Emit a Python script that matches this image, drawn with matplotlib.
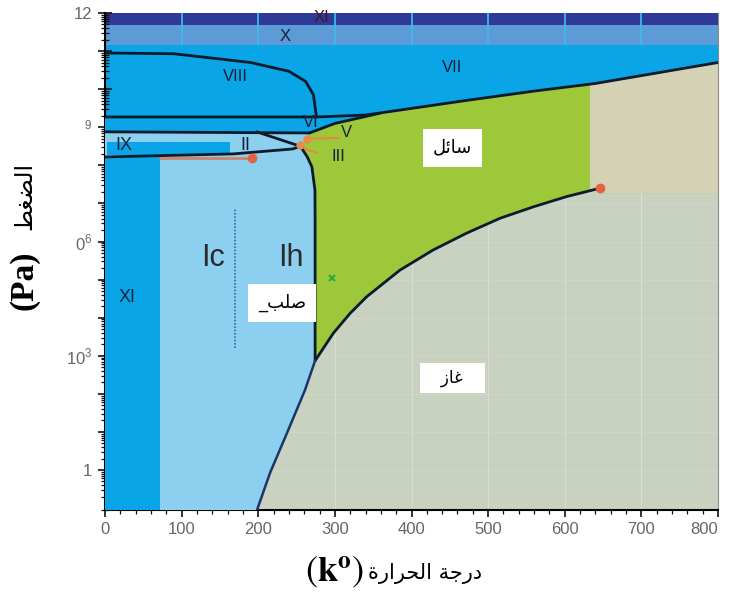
import numpy as np
import matplotlib
matplotlib.use("Agg")
import matplotlib.pyplot as plt
from matplotlib.patches import Polygon
from matplotlib.ticker import FixedLocator, MultipleLocator, NullFormatter

plt.rcParams['font.family'] = ['Liberation Sans', 'DejaVu Sans']
plt.rcParams['mathtext.fontset'] = 'custom'
plt.rcParams['mathtext.rm'] = 'Liberation Sans'

# Phase boundaries: T in K, pressure as log10(P / Pa)
viii_T = [0, 90, 190, 240, 262, 272, 276]
viii_lp = [10.95, 10.93, 10.70, 10.47, 10.20, 9.85, 9.27]

vii_T = [0, 276, 340, 470, 560, 640, 800]
vii_lp = [9.27, 9.27, 9.32, 9.70, 9.95, 10.15, 10.70]

vi_low_T = [0, 267]
vi_low_lp = [8.88, 8.85]

vi_liq_T = [267, 300, 359]
vi_liq_lp = [8.85, 9.10, 9.37]

ii_iii_T = [198, 255]
ii_iii_lp = [8.88, 8.50]

ih_top_T = [0, 167, 245, 255]
ih_top_lp = [8.22, 8.30, 8.43, 8.50]

melt_T = [255, 264, 270, 274, 274.2, 274.2]
melt_lp = [8.50, 8.22, 7.96, 7.35, 6.50, 2.87]

subl_T = [274.2, 261, 237.5, 215.3, 198.4]
subl_lp = [2.87, 2.10, 0.97, -0.08, -1.05]

vap_T = [274.2, 297.9, 319.7, 341.5, 385.0, 428.5, 472.0, 515.5, 559.0, 602.5, 646.0]
vap_lp = [2.87, 3.59, 4.11, 4.55, 5.25, 5.78, 6.22, 6.61, 6.91, 7.18, 7.40]

# marked points
crit_T, crit_lp = 646, 7.40
xi_end_T, xi_end_lp = 192, 8.19
tp_T = [255, 263]
tp_lp = [8.53, 8.70]
green_x_T, green_x_lp = 296, 5.03

# region edges
band_xi_lp = (11.69, 12.0)
band_x_lp = (11.16, 11.69)
ice_xi_Tmax = 72
super_Tmin, super_lp_min = 633, 7.27
ix_T = (3, 163)
ix_lp = (8.27, 8.62)
ic_ih_T = 170
ic_ih_lp = (3.2, 6.88)

grid_T = [100, 200, 300, 400, 500, 600, 700]
x_ticks = [0, 100, 200, 300, 400, 500, 600, 700, 800]
y_decades = list(range(0, 13))
y_labels = ['1', '', '', '$10^3$', '', '', '$0^6$', '', '', '$^9$', '', '', '12']

BRIGHT = '#0aa5e6'
LIGHT = '#8dcfee'
NAVY = '#2e3a96'
STEEL = '#5d9bd6'
GREEN = '#9cc83a'
BEIGE = '#d4d1b5'
GAS = '#c9d1c1'
LINE = '#0d1b2a'

ARABIC_FORMS = {
    # letter: (isolated, final, initial, medial)
    'ا': ('\uFE8D', '\uFE8E', None, None),
    'ب': ('\uFE8F', '\uFE90', '\uFE91', '\uFE92'),
    'ة': ('\uFE93', '\uFE94', None, None),
    'ج': ('\uFE9D', '\uFE9E', '\uFE9F', '\uFEA0'),
    'ح': ('\uFEA1', '\uFEA2', '\uFEA3', '\uFEA4'),
    'د': ('\uFEA9', '\uFEAA', None, None),
    'ر': ('\uFEAD', '\uFEAE', None, None),
    'ز': ('\uFEAF', '\uFEB0', None, None),
    'س': ('\uFEB1', '\uFEB2', '\uFEB3', '\uFEB4'),
    'ص': ('\uFEB9', '\uFEBA', '\uFEBB', '\uFEBC'),
    'ض': ('\uFEBD', '\uFEBE', '\uFEBF', '\uFEC0'),
    'ط': ('\uFEC1', '\uFEC2', '\uFEC3', '\uFEC4'),
    'غ': ('\uFECD', '\uFECE', '\uFECF', '\uFED0'),
    'ل': ('\uFEDD', '\uFEDE', '\uFEDF', '\uFEE0'),
    'ئ': ('\uFE89', '\uFE8A', '\uFE8B', '\uFE8C'),
}


def arabic(text):
    # matplotlib has no Arabic shaping, so pick the joined forms by hand
    # and reverse into visual order
    out = []
    for i, ch in enumerate(text):
        forms = ARABIC_FORMS.get(ch)
        if forms is None:
            out.append(ch)
            continue
        prev = text[i - 1] if i > 0 else ''
        nxt = text[i + 1] if i + 1 < len(text) else ''
        join_prev = prev in ARABIC_FORMS and ARABIC_FORMS[prev][2] is not None
        join_next = forms[2] is not None and nxt in ARABIC_FORMS
        if join_prev and join_next:
            out.append(forms[3])
        elif join_prev:
            out.append(forms[1])
        elif join_next:
            out.append(forms[2])
        else:
            out.append(forms[0])
    return ''.join(reversed(out))


def P(lp):
    return 10.0 ** np.asarray(lp, dtype=float)


W, H = 730, 597
fig = plt.figure(figsize=(W / 100, H / 100), dpi=100)
ax = fig.add_axes([105 / W, 1 - 510 / H, 613 / W, 497 / H])
ymin, ymax = 10 ** -1.05, 10 ** 12.0
ax.set_xlim(0, 800)
ax.set_yscale('log')
ax.set_ylim(ymin, ymax)
ax.set_facecolor(BRIGHT)

# liquid below the VII line, supercritical corner, then blue above again
ax.fill_between(vii_T, P(vii_lp), ymin, color=GREEN, lw=0, zorder=1)
ax.fill_between([super_Tmin, 800], 10 ** super_lp_min, ymax, color=BEIGE, lw=0, zorder=1.1)
ax.fill_between(vii_T, P(vii_lp), ymax, color=BRIGHT, lw=0, zorder=1.2)
ax.axhspan(10 ** band_x_lp[0], 10 ** band_x_lp[1], color=STEEL, lw=0, zorder=1.3)
ax.axhspan(10 ** band_xi_lp[0], 10 ** band_xi_lp[1], color=NAVY, lw=0, zorder=1.3)
ax.vlines(grid_T, 10 ** band_x_lp[0], ymax, color='#3db8ec', lw=1.3, zorder=1.4)

# vapour
gas_T = subl_T[::-1] + vap_T[1:] + [crit_T, 800, 800]
gas_lp = subl_lp[::-1] + vap_lp[1:] + [super_lp_min, super_lp_min, -1.05]
gas = Polygon(np.column_stack([gas_T, P(gas_lp)]), closed=True,
              facecolor=GAS, edgecolor='none', zorder=2)
ax.add_patch(gas)
gl = ax.vlines([300, 400, 500, 600, 700], ymin, ymax, color='#d8ded2', lw=0.8, zorder=2.1)
gl.set_clip_path(gas)
gh = ax.hlines(P(y_decades), 0, 800, color='#d1d8cb', lw=0.7, zorder=2.1)
gh.set_clip_path(gas)

# ice VI region between the box top and the VII line
vi_poly_T = vi_low_T + vi_liq_T[1:] + vii_T[2:0:-1] + [0]
vi_poly_lp = vi_low_lp + vi_liq_lp[1:] + vii_lp[2:0:-1] + [vii_lp[0]]
ax.add_patch(Polygon(np.column_stack([vi_poly_T, P(vi_poly_lp)]), closed=True,
                     facecolor=BRIGHT, edgecolor='none', zorder=3))

# ice II / IX box
box_T = ih_top_T + vi_low_T[::-1]
box_lp = ih_top_lp + vi_low_lp[::-1]
ax.add_patch(Polygon(np.column_stack([box_T, P(box_lp)]), closed=True,
                     facecolor=LIGHT, edgecolor='none', zorder=3))
ax.fill_between(ix_T, 10 ** ix_lp[0], 10 ** ix_lp[1], color=BRIGHT, lw=0, zorder=3.1)

# ice Ih / Ic and ice XI
ice_T = [ice_xi_Tmax] + subl_T[::-1] + melt_T[-2::-1] + ih_top_T[-2::-1] + [0]
ice_lp = [-1.05] + subl_lp[::-1] + melt_lp[-2::-1] + ih_top_lp[-2::-1] + [-1.05]
ax.add_patch(Polygon(np.column_stack([ice_T, P(ice_lp)]), closed=True,
                     facecolor=LIGHT, edgecolor='none', zorder=3))
ax.fill_between([0, ice_xi_Tmax], ymin, 10 ** ih_top_lp[0], color=BRIGHT, lw=0, zorder=3.1)

# boundaries
for T, lp in [(viii_T, viii_lp), (vii_T, vii_lp), (vi_low_T, vi_low_lp),
              (vi_liq_T, vi_liq_lp), (ii_iii_T, ii_iii_lp), (ih_top_T, ih_top_lp),
              (melt_T, melt_lp), (vap_T, vap_lp)]:
    ax.plot(T, P(lp), color=LINE, lw=2.0, solid_capstyle='round', zorder=5)
ax.plot(subl_T, P(subl_lp), color='#1b3566', lw=1.8, zorder=5)
ax.plot([ice_xi_Tmax, xi_end_T], P([xi_end_lp, xi_end_lp]), color='#e0704a', lw=2, alpha=0.8, zorder=4.9)
ax.plot([255, 276], P([8.48, 8.33]), color='#e58a45', lw=1.5, zorder=4.9)
ax.plot([263, 305], P([8.70, 8.72]), color='#e58a45', lw=1.5, zorder=4.9)
ax.plot([ic_ih_T, ic_ih_T], P(ic_ih_lp), color='#2f6d9c', lw=1.2, ls=(0, (1, 1)), zorder=5)

ax.plot([crit_T, xi_end_T], P([crit_lp, xi_end_lp]), ls='none', marker='o', ms=6,
        color='#e4633f', zorder=6)
ax.plot(tp_T, P(tp_lp), ls='none', marker='o', ms=5, color='#ea8a4a', zorder=6)
ax.plot([green_x_T], P([green_x_lp]), ls='none', marker='x', ms=4, mew=1.5,
        color='#2fae3a', zorder=6)

# phase labels
dark = '#17203c'
for txt, T, lp, fs in [('VIII', 170, 10.32, 12), ('VII', 453, 10.56, 12), ('X', 235, 11.37, 12),
                       ('VI', 268, 9.12, 12), ('V', 315, 8.87, 12), ('III', 304, 8.22, 12),
                       ('II', 183, 8.51, 13), ('IX', 25, 8.51, 13), ('XI', 29, 4.52, 13)]:
    ax.text(T, 10 ** lp, txt, color=dark, fontsize=fs, ha='center', va='center', zorder=7)
ax.text(283, 10 ** 11.87, 'XI', color='#401828', fontsize=12, ha='center', va='center', zorder=7)
ax.text(141, 10 ** 5.57, 'Ic', color='#2a2a2a', fontsize=22, ha='center', va='center', zorder=7)
ax.text(243, 10 ** 5.57, 'Ih', color='#2a2a2a', fontsize=22, ha='center', va='center', zorder=7)

box = dict(boxstyle='square,pad=0.55', facecolor='white', edgecolor='none')
ax.text(453, 10 ** 8.46, arabic('سائل'), family='DejaVu Sans', fontsize=13,
        ha='center', va='center', bbox=box, zorder=7)
ax.text(453, 10 ** 2.42, '   ' + arabic('غاز') + '   ', family='DejaVu Sans', fontsize=12,
        ha='center', va='center',
        bbox=dict(boxstyle='square,pad=0.35', facecolor='white', edgecolor='none'), zorder=7)
ax.text(231, 10 ** 4.39, '_' + arabic('صلب'), family='DejaVu Sans', fontsize=13,
        ha='center', va='center', bbox=box, zorder=7)

# axes styling
ax.set_xticks(x_ticks)
ax.xaxis.set_minor_locator(MultipleLocator(20))
ax.set_yticks(P(y_decades), labels=y_labels)
ax.yaxis.set_minor_locator(FixedLocator([s * 10.0 ** k for k in range(-2, 12) for s in range(2, 10)]))
ax.yaxis.set_minor_formatter(NullFormatter())
ax.tick_params(which='major', direction='inout', length=10, width=1.2, colors='#111',
               labelcolor='#666', labelsize=12, pad=4)
ax.tick_params(which='minor', direction='inout', length=6, width=0.9, colors='#111')
ax.spines['top'].set_visible(False)
ax.spines['right'].set_color('#8a8a8a')
ax.spines['left'].set_linewidth(1.5)
ax.spines['bottom'].set_linewidth(1.5)
# keep the last x label inside the canvas, as in the original
ax.get_xticklabels()[-1].set_horizontalalignment('right')
ax.get_xticklabels()[-1].set_x(812)

# axis titles
fig.text(364 / W, 1 - 572 / H, r'$(\mathbf{k}^{\mathbf{o}})$', math_fontfamily='stix',
         fontsize=26, ha='right', va='center')
fig.text(368 / W, 1 - 574 / H, arabic('درجة الحرارة'), family='DejaVu Sans',
         fontsize=15, ha='left', va='center')
fig.text(24 / W, 1 - 280 / H, '(Pa)', family='Liberation Serif', fontweight='bold',
         fontsize=24, rotation=90, ha='center', va='center')
fig.text(24 / W, 1 - 196 / H, arabic('الضغط'), family='DejaVu Sans', fontsize=17,
         rotation=90, ha='center', va='center')

fig.savefig('out.png', dpi=100)
